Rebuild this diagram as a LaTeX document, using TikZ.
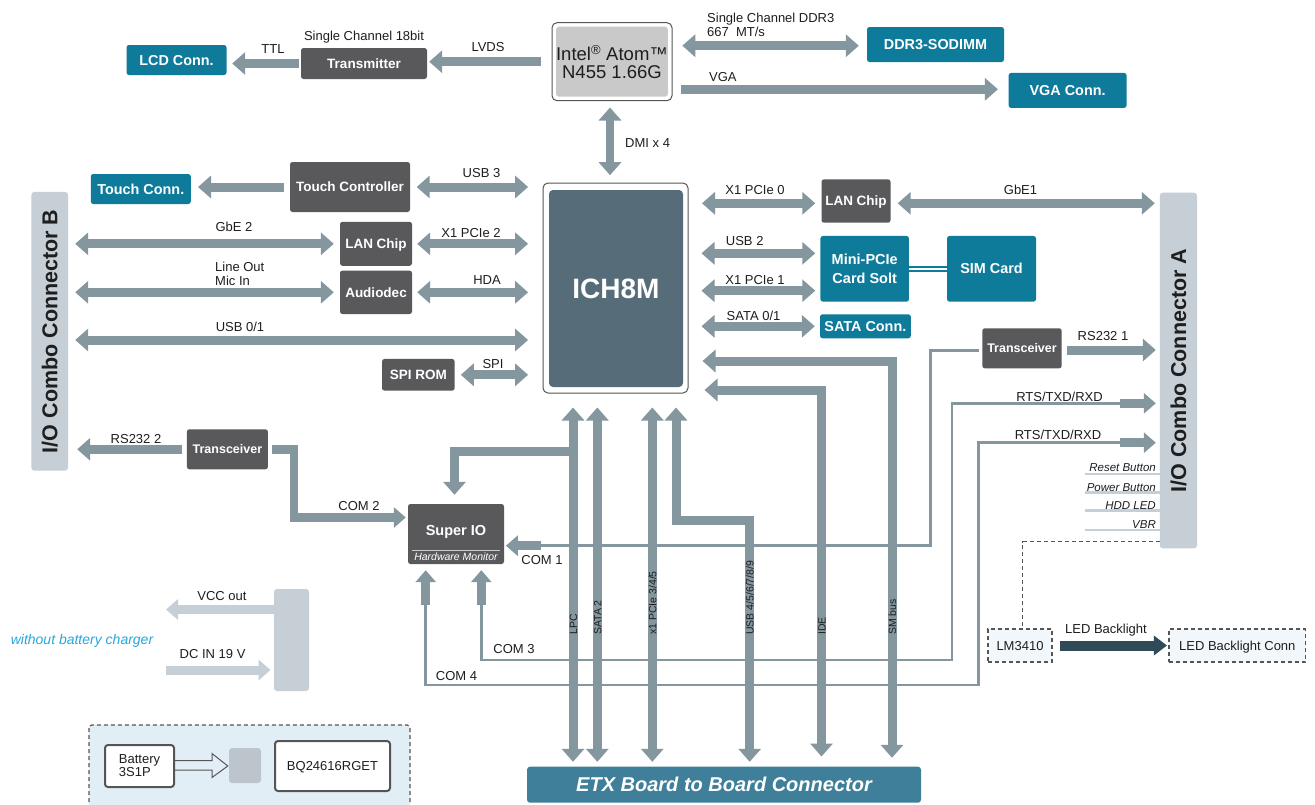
\documentclass[tikz,border=0pt]{standalone}
\usepackage{fontspec}
\setmainfont{Liberation Sans}
\usetikzlibrary{arrows.meta,calc}
\definecolor{busc}{HTML}{84969E}
\definecolor{tealc}{HTML}{0E7B9B}
\definecolor{darkc}{HTML}{59595B}
\definecolor{ichc}{HTML}{566C79}
\definecolor{conc}{HTML}{C6CED6}
\definecolor{etxc}{HTML}{3F7F99}
\definecolor{ledarrowc}{HTML}{2F4B57}
\definecolor{pale}{HTML}{E2EEF6}
\definecolor{palef}{HTML}{F1F7FB}
\definecolor{cyant}{HTML}{27A7DD}
\definecolor{txt}{HTML}{1E1E1E}
\definecolor{brd}{HTML}{555555}
\definecolor{intelc}{HTML}{C9C9C9}
\definecolor{sqc}{HTML}{BCC5CC}
\tikzset{
  bt/.tip={Triangle[width=22pt,length=13pt]},
  st/.tip={Triangle[width=20pt,length=12pt]},
  busline/.style={draw=busc, line width=9pt, line cap=butt},
  busone/.style={busline,-bt},
  bustwo/.style={busline,bt-bt},
  comarr/.style={draw=busc, line width=8.5pt, line cap=butt, -st},
  lightarr/.style={draw=conc, line width=9pt, line cap=butt, -st},
  thinbus/.style={draw=busc, line width=2.8pt, line cap=butt},
  btnline/.style={draw=conc, line width=2.5pt},
  boxbase/.style={inner sep=0pt, text=white, rounded corners=2.5pt},
  tealbox/.style={boxbase, fill=tealc, font=\bfseries\fontsize{14.4}{17}\selectfont, text height=10.3pt, text depth=0pt},
  darkbox/.style={boxbase, fill=darkc, font=\bfseries\fontsize{13.5}{16}\selectfont, text height=9.7pt, text depth=0pt},
  dashbox/.style={draw=brd, dashed, dash pattern=on 4pt off 3pt, line width=1.4pt, fill=palef, inner sep=0pt, text=txt, font=\fontsize{13}{15}\selectfont, text height=9.3pt, text depth=0pt},
  connbar/.style={fill=conc, rounded corners=3pt, inner sep=0pt, text=txt, font=\bfseries\fontsize{21.5}{24}\selectfont, text height=15.4pt, text depth=0pt},
  lbl/.style={inner sep=0pt, text=txt, font=\fontsize{13}{15.6}\selectfont, anchor=base},
  lblw/.style={lbl, anchor=base west},
  vlbl/.style={inner sep=0pt, text=txt, font=\fontsize{10.5}{12}\selectfont, rotate=90, anchor=base west},
  ilbl/.style={inner sep=0pt, text=txt, font=\itshape\fontsize{11.5}{13}\selectfont, anchor=base east},
}
\begin{document}
\begin{tikzpicture}[x=1pt,y=-1pt]
\useasboundingbox (0,0) rectangle (1315,804);
\fill[white] (0,0) rectangle (1315,804);

% ---------- boxes ----------
\node[darkbox, minimum width=126pt, minimum height=31pt] (trans) at (364,63.5) {Transmitter};
\node[tealbox, minimum width=100pt, minimum height=30pt] (lcd) at (176.5,60) {LCD Conn.};
\node[draw=brd, line width=1pt, fill=white, rounded corners=5pt, minimum width=120pt, minimum height=78pt, inner sep=0pt] (intel) at (612,61.7) {};
\node[fill=intelc, rounded corners=3pt, minimum width=111pt, minimum height=70pt, inner sep=0pt, align=center, font=\fontsize{18.5}{17.8}\selectfont, text=txt] (cpu) at (612,61.7) {Intel\textsuperscript{®} Atom™\\N455 1.66G};
\node[tealbox, minimum width=137pt, minimum height=35pt] (ddr) at (935.5,44.5) {DDR3-SODIMM};
\node[tealbox, minimum width=118pt, minimum height=35pt] (vga) at (1067.6,90.4) {VGA Conn.};
\node[draw=brd, line width=1pt, fill=white, rounded corners=5pt, minimum width=145pt, minimum height=210pt, inner sep=0pt] (ich) at (615.5,288) {};
\node[fill=ichc, rounded corners=4pt, minimum width=134pt, minimum height=197pt, inner sep=0pt, text=white, font=\bfseries\fontsize{28}{30}\selectfont, text height=20pt, text depth=0pt] (ichin) at (616,288.5) {ICH8M};
\node[tealbox, minimum width=100pt, minimum height=30pt] (tcon) at (140.8,189) {Touch Conn.};
\node[darkbox, minimum width=120pt, minimum height=50pt] (tctl) at (350,187) {Touch Controller};
% rotated bar: its local south is the visual right side
\node[connbar, rotate=90, minimum width=278.7pt, minimum height=36.6pt] (iob) at (49.7,331.3) {I/O Combo Connector B};
\node[darkbox, minimum width=72pt, minimum height=44pt] (lanl) at (376,243.8) {LAN Chip};
\node[darkbox, minimum width=72pt, minimum height=43.5pt] (aud) at (376,292.3) {Audiodec};
\node[darkbox, minimum width=72.6pt, minimum height=31.7pt] (spi) at (418.3,374.8) {SPI ROM};
\node[darkbox, minimum width=81pt, minimum height=40pt, font=\bfseries\fontsize{12.5}{15}\selectfont, text height=9pt] (trl) at (227.4,449.3) {Transceiver};
\node[darkbox, minimum width=69pt, minimum height=43.4pt] (lanr) at (856,201) {LAN Chip};
\node[boxbase, fill=tealc, minimum width=88.5pt, minimum height=65.7pt, align=center, font=\bfseries\fontsize{14.5}{19}\selectfont] (mpc) at (864.7,268.8) {Mini-PCIe\\Card Solt};
\node[tealbox, minimum width=89pt, minimum height=65.7pt] (sim) at (991.5,268.8) {SIM Card};
\node[tealbox, minimum width=90.8pt, minimum height=24pt] (sata) at (865.4,326.3) {SATA Conn.};
\node[darkbox, minimum width=79.4pt, minimum height=40pt, font=\bfseries\fontsize{12.5}{15}\selectfont, text height=9pt] (trr) at (1022,348.3) {Transceiver};
% rotated bar: its local north is the visual left side
\node[connbar, rotate=90, minimum width=355.6pt, minimum height=37.2pt] (ioa) at (1178.4,370.5) {I/O Combo Connector A};
\node[darkbox, minimum width=96pt, minimum height=60pt, font=\bfseries\fontsize{14.5}{17}\selectfont, text height=10.4pt, text depth=8.4pt] (sio) at (456,534) {Super IO};
\draw[draw=white!70!darkc, line width=1pt] (412,550) -- (500,550);
\node[inner sep=0pt, anchor=base, text=white, font=\itshape\fontsize{10.5}{12}\selectfont] (hwm) at (456,560) {Hardware Monitor};
\node[fill=etxc, rounded corners=3pt, minimum width=394pt, minimum height=36pt, inner sep=0pt, text=white, font=\bfseries\itshape\fontsize{20}{22}\selectfont, text height=14.3pt, text depth=0pt] (etx) at (724,784.7) {ETX Board to Board Connector};
\node[dashbox, minimum width=64pt, minimum height=33pt] (lm) at (1020,645.5) {LM3410};
\node[dashbox, minimum width=136.7pt, minimum height=33pt] (ledconn) at (1237.3,645.5) {LED Backlight Conn};
\node[fill=conc, rounded corners=3pt, minimum width=35pt, minimum height=102pt, inner sep=0pt] (pwr) at (291.5,640) {};

% charger area
\draw[draw=brd, dashed, dash pattern=on 4pt off 3pt, fill=pale, line width=1.2pt, rounded corners=3pt] (89,725) rectangle (410,830);
\node[draw=brd, line width=2pt, fill=white, rounded corners=3pt, minimum width=69pt, minimum height=42pt, inner sep=0pt, align=left, text=txt, font=\fontsize{13}{13}\selectfont] (bat) at (139.5,766) {Battery\\3S1P};
\node[fill=sqc, rounded corners=3pt, minimum width=32pt, minimum height=35pt, inner sep=0pt] (sq) at (245,765.5) {};
\node[draw=brd, line width=2pt, fill=white, rounded corners=3pt, minimum width=115pt, minimum height=50pt, inner sep=0pt, text=txt, font=\fontsize{13}{15}\selectfont, text height=9.3pt, text depth=0pt] (bq) at (332.5,766) {BQ24616RGET};
\draw[draw=brd, line width=1pt, line join=miter]
  ($(bat.east)+(0,-5.3)$) -- ($(bat.east)+(37,-5.3)$) -- ($(bat.east)+(37,-12.5)$)
  -- ($(sq.west)+(-1,0.5)$) -- ($(bat.east)+(37,11.5)$) -- ($(bat.east)+(37,4)$) -- ($(bat.east)+(0,4)$);

% ---------- coordinates ----------
\coordinate (yddr) at (0,45.7);
\coordinate (yvga) at (0,89.3);
\coordinate (xdmi) at (610,0);
\coordinate (yu01) at (0,340);
\coordinate (c2a) at (294,449.3);
\coordinate (c2b) at (294,517.5);
\coordinate (xlpc) at (573,0);
\coordinate (xsata) at (597.3,0);
\coordinate (xpcie) at (652.3,0);
\coordinate (xusb) at (676,0);
\coordinate (xusbb) at (749.7,0);
\coordinate (xide) at (821.5,0);
\coordinate (xsmb) at (892,0);
\coordinate (ybr) at (0,451);
\coordinate (xbr) at (454.5,0);
\coordinate (yusb) at (0,520.5);
\coordinate (yide) at (0,390);
\coordinate (ysmb) at (0,361);
\coordinate (yx0) at (0,203.3);
\coordinate (yu2) at (0,253.3);
\coordinate (yx1) at (0,290.7);
\coordinate (ylink) at (0,269.2);
\coordinate (yrs1) at (0,350);
\coordinate (tA) at (930.7,350.7);
\coordinate (tB) at (930.7,545.7);
\coordinate (c1s) at (540.7,545.7);
\coordinate (c3s) at (481.3,605);
\coordinate (c3a) at (481.3,660);
\coordinate (c3b) at (952,660);
\coordinate (c3c) at (952,403.3);
\coordinate (r1s) at (1120,403.3);
\coordinate (c4s) at (425.7,605);
\coordinate (c4a) at (425.7,685);
\coordinate (c4b) at (978.3,685);
\coordinate (c4c) at (978.3,442.7);
\coordinate (r2s) at (1120,442.7);
\coordinate (dc) at (1022.7,541.7);
\coordinate (vcce) at (166,609.5);
\coordinate (dcs) at (166,670);

% ---------- thin lines ----------
\draw[thinbus, line join=miter, shorten <=3.3pt] (trr.west |- tA) -- (tA) -- (tB) -- (c1s);
\draw[thinbus, line join=miter] (c3s) -- (c3a) -- (c3b) -- (c3c) -- (r1s);
\draw[thinbus, line join=miter] (c4s) -- (c4a) -- (c4b) -- (c4c) -- (r2s);
\foreach \yy in {474,492.7,510.7,530}{
  \coordinate (bl) at (1085,\yy);
  \draw[btnline] (bl) -- (bl -| ioa.north);
}
\draw[draw=brd, dashed, dash pattern=on 4pt off 3pt, line width=1.4pt] (dc -| ioa.north) -- (dc) -- (dc |- lm.north);

% ---------- buses ----------
\draw[busone, shorten <=2pt, shorten >=5.5pt] (trans.west) -- (trans.west -| lcd.east);
\draw[busone, shorten <=10.7pt, shorten >=2pt] (intel.west) -- (intel.west -| trans.east);
\draw[bustwo, shorten <=9.8pt, shorten >=8pt] (yddr -| intel.east) -- (yddr -| ddr.west);
\draw[busone, shorten <=8.5pt, shorten >=10.5pt] (yvga -| intel.east) -- (yvga -| vga.west);
\draw[bustwo, line width=8pt, shorten <=6.3pt, shorten >=7.3pt] (xdmi |- intel.south) -- (xdmi |- ich.north);

\draw[busone, shorten <=6pt, shorten >=7pt] (tctl.west) -- (tctl.west -| tcon.east);
\draw[bustwo, shorten <=6.5pt, shorten >=14.4pt] (tctl.east) -- (tctl.east -| ich.west);
\draw[bustwo, shorten <=6pt, shorten >=7pt] (lanl.west) -- (lanl.west -| iob.south);
\draw[bustwo, shorten <=5pt, shorten >=14.4pt] (lanl.east) -- (lanl.east -| ich.west);
\draw[bustwo, shorten <=6pt, shorten >=7pt] (aud.west) -- (aud.west -| iob.south);
\draw[bustwo, shorten <=5pt, shorten >=14.4pt] (aud.east) -- (aud.east -| ich.west);
\draw[bustwo, shorten <=7pt, shorten >=14.4pt] (yu01 -| iob.south) -- (yu01 -| ich.west);
\draw[bustwo, shorten <=6pt, shorten >=14.4pt] (spi.east) -- (spi.east -| ich.west);
\draw[busone, shorten <=5pt, shorten >=9pt] (trl.west) -- (trl.west -| iob.south);
\draw[comarr, line join=miter, shorten <=4pt, shorten >=2pt] (trl.east) -- (c2a) -- (c2b) -- (c2b -| sio.west);

\draw[busone, line join=miter, shorten >=9pt] (xlpc |- ybr) -- (xbr |- ybr) -- (xbr |- sio.north);
\draw[bustwo, shorten <=4.7pt, shorten >=14pt] (xlpc |- etx.north) -- (xlpc |- ich.south);
\draw[bustwo, shorten <=4.7pt, shorten >=14pt] (xsata |- etx.north) -- (xsata |- ich.south);
\draw[bustwo, shorten <=4.7pt, shorten >=14pt] (xpcie |- etx.north) -- (xpcie |- ich.south);
\draw[bustwo, line join=miter, shorten <=4.7pt, shorten >=14pt] (xusbb |- etx.north) -- (xusbb |- yusb) -- (xusb |- yusb) -- (xusb |- ich.south);
\draw[bustwo, line join=miter, shorten <=10pt, shorten >=16pt] (xide |- etx.north) -- (xide |- yide) -- (yide -| ich.east);
\draw[bustwo, line join=miter, shorten <=8.7pt, shorten >=14pt] (xsmb |- etx.north) -- (xsmb |- ysmb) -- (ysmb -| ich.east);

\draw[bustwo, shorten <=6pt, shorten >=13.5pt] (yx0 -| lanr.west) -- (yx0 -| ich.east);
\draw[bustwo, shorten <=7pt, shorten >=4.8pt] (yx0 -| lanr.east) -- (yx0 -| ioa.north);
\draw[bustwo, shorten <=5pt, shorten >=13pt] (yu2 -| mpc.west) -- (yu2 -| ich.east);
\draw[bustwo, shorten <=5pt, shorten >=13pt] (yx1 -| mpc.west) -- (yx1 -| ich.east);
\draw[bustwo, shorten <=5pt, shorten >=13pt] (sata.west) -- (sata.west -| ich.east);
\draw[draw=tealc, line width=6.5pt] (ylink -| mpc.east) -- (ylink -| sim.west);
\draw[draw=white, line width=1.5pt] (ylink -| mpc.east) -- (ylink -| sim.west);
\draw[busone, shorten <=5.3pt, shorten >=3.8pt] (yrs1 -| trr.east) -- (yrs1 -| ioa.north);
\draw[comarr, shorten >=3.8pt] (r1s) -- (r1s -| ioa.north);
\draw[comarr, shorten >=3.8pt] (r2s) -- (r2s -| ioa.north);
\draw[comarr, shorten >=1.7pt] (c1s) -- (c1s -| sio.east);
\draw[comarr, shorten >=6pt] (c3s) -- (c3s |- sio.south);
\draw[comarr, shorten >=6pt] (c4s) -- (c4s |- sio.south);

\draw[draw=ledarrowc, line width=10pt, -{Triangle[width=19pt,length=13pt]}, shorten <=7pt, shorten >=1.3pt] (lm.east) -- (ledconn.west);
\draw[lightarr] (vcce -| pwr.west) -- (vcce);
\draw[lightarr, shorten >=3.3pt] (dcs) -- (dcs -| pwr.west);

% ---------- labels ----------
\node[lbl] (l1) at (364,40) {Single Channel 18bit};
\node[lbl] (l2) at (273,53) {TTL};
\node[lbl] (l3) at (488,51) {LVDS};
\node[lblw] (l4) at (707,22) {Single Channel DDR3};
\node[lblw] (l5) at (707,36) {667~~MT/s};
\node[lblw] (l6) at (709,81) {VGA};
\node[lblw] (l7) at (625,147) {DMI x 4};
\node[lbl] (l8) at (481.5,177.5) {USB 3};
\node[lbl] (l9) at (234,231.5) {GbE 2};
\node[lbl] (l10) at (471,237.5) {X1 PCIe 2};
\node[lblw] (l11) at (215,271.5) {Line Out};
\node[lblw] (l12) at (215,285) {Mic In};
\node[lbl] (l13) at (487,284) {HDA};
\node[lbl] (l14) at (240,331.5) {USB 0/1};
\node[lbl] (l15) at (493,368) {SPI};
\node[lbl] (l16) at (136,443) {RS232 2};
\node[lbl] (l17) at (359,510) {COM 2};
\node[lbl] (l18) at (542,564) {COM 1};
\node[lbl] (l19) at (514,653) {COM 3};
\node[lbl] (l20) at (456.5,680) {COM 4};
\node[lbl] (l21) at (755,194) {X1 PCIe 0};
\node[lbl] (l22) at (1020.5,194) {GbE1};
\node[lbl] (l23) at (744.7,245.5) {USB 2};
\node[lbl] (l24) at (755,284) {X1 PCIe 1};
\node[lbl] (l25) at (753.5,320) {SATA 0/1};
\node[lbl] (l26) at (1103,340) {RS232 1};
\node[lbl] (l27) at (1059.5,401) {RTS/TXD/RXD};
\node[lbl] (l28) at (1058,439) {RTS/TXD/RXD};
\node[ilbl] (l29) at (1156,471.5) {Reset Button};
\node[ilbl] (l30) at (1156,491) {Power Button};
\node[ilbl] (l31) at (1156,509) {HDD LED};
\node[ilbl] (l32) at (1156,528) {VBR};
\node[lbl] (l33) at (1106,633) {LED Backlight};
\node[lbl] (l34) at (222,600.5) {VCC out};
\node[lbl] (l35) at (212.6,658) {DC IN 19 V};
\node[lbl, text=cyant, font=\itshape\fontsize{14}{16}\selectfont] (l36) at (82,644) {without battery charger};
\node[vlbl] (v1) at (577,635) {LPC};
\node[vlbl] (v2) at (601.3,635) {SATA 2};
\node[vlbl] (v3) at (656.3,635) {x1 PCIe 3/4/5};
\node[vlbl] (v4) at (753.7,635) {USB 4/5/6/7/8/9};
\node[vlbl] (v5) at (825.5,635) {IDE};
\node[vlbl] (v6) at (896,635) {SM bus};
\end{tikzpicture}
\end{document}
